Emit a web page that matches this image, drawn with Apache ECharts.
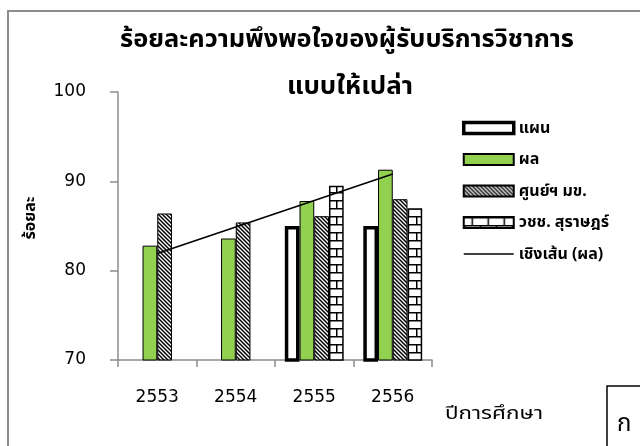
<!DOCTYPE html>
<html>
<head>
<meta charset="utf-8">
<script src="https://cdn.jsdelivr.net/npm/echarts@6/dist/echarts.min.js"></script>
<style>
  html, body { margin: 0; padding: 0; background: #fff; }
  #chart { width: 640px; height: 446px; }
</style>
</head>
<body>
<div id="chart"></div>
<script>
// Academic years and satisfaction percentages
const years = ['2553', '2554', '2555', '2556'];
const planValues = [null, null, 85, 85];
const resultValues = [82.8, 83.6, 87.8, 91.3];
const centerValues = [86.4, 85.4, 86.1, 88.0];
const collegeValues = [null, null, 89.5, 87.0];
const yTicks = [70, 80, 90, 100];

const seriesNames = ['แผน', 'ผล', 'ศูนย์ฯ มข.', 'วชช. สุราษฎร์', 'เชิงเส้น (ผล)'];
const titleLines = ['ร้อยละความพึงพอใจของผู้รับบริการวิชาการ', 'แบบให้เปล่า'];
const yName = 'ร้อยละ';
const xName = 'ปีการศึกษา';

const THAI = '"Noto Sans", "Noto Sans Thai", Tahoma, sans-serif';
const NUM = '"DejaVu Sans", sans-serif';

// Linear least-squares trend over the result series (x = 1..n)
function linearTrend(values) {
  const pts = values.map((v, i) => [i + 1, v]).filter(p => p[1] != null);
  const n = pts.length;
  const mx = pts.reduce((s, p) => s + p[0], 0) / n;
  const my = pts.reduce((s, p) => s + p[1], 0) / n;
  let sxy = 0, sxx = 0;
  pts.forEach(p => { sxy += (p[0] - mx) * (p[1] - my); sxx += (p[0] - mx) ** 2; });
  const slope = sxy / sxx;
  const icpt = my - slope * mx;
  return values.map((_, i) => +(icpt + slope * (i + 1)).toFixed(3));
}
const trendValues = linearTrend(resultValues);

// Horizontal scale that makes a text run span a given width
const measureCtx = document.createElement('canvas').getContext('2d');
function widthScale(text, font, target) {
  measureCtx.font = font;
  return target / measureCtx.measureText(text).width;
}

// Diagonal hatch fill
function hatchPattern() {
  const c = document.createElement('canvas');
  c.width = 8; c.height = 8;
  const g = c.getContext('2d');
  g.fillStyle = '#fff'; g.fillRect(0, 0, 8, 8);
  g.strokeStyle = '#000'; g.lineWidth = 1.5;
  for (let k = -3; k <= 3; k++) {
    g.beginPath();
    g.moveTo(k * 4 - 2, -2);
    g.lineTo(k * 4 + 10, 10);
    g.stroke();
  }
  return c;
}

// Brick fill
function brickPattern() {
  const c = document.createElement('canvas');
  c.width = 16; c.height = 16;
  const g = c.getContext('2d');
  g.fillStyle = '#fff'; g.fillRect(0, 0, 16, 16);
  g.strokeStyle = '#000'; g.lineWidth = 1.5;
  g.beginPath();
  g.moveTo(0, 0.75); g.lineTo(16, 0.75);
  g.moveTo(0, 8.75); g.lineTo(16, 8.75);
  g.moveTo(8.5, 0); g.lineTo(8.5, 8);
  g.moveTo(0.75, 8); g.lineTo(0.75, 16);
  g.stroke();
  return c;
}

const titleFont = 'bold 24px ' + THAI;
const xNameFont = '18px ' + THAI;

function centeredText(text, font, cx, cy, width) {
  return {
    type: 'text', silent: true, x: cx, y: cy,
    scaleX: widthScale(text, font, width),
    style: { text: text, font: font, fill: '#000', align: 'center', verticalAlign: 'middle' }
  };
}

const chart = echarts.init(document.getElementById('chart'), null, { renderer: 'canvas' });

const option = {
  backgroundColor: '#fff',
  animation: false,
  textStyle: { fontFamily: THAI, color: '#000' },
  graphic: [
    { type: 'rect', silent: true, z: -10,
      shape: { x: 8, y: 11, width: 700, height: 500 },
      style: { fill: 'none', stroke: '#8c8c8c', lineWidth: 2 } },
    centeredText(titleLines[0], titleFont, 347, 40, 454),
    centeredText(titleLines[1], titleFont, 350, 87, 126),
    centeredText(xName, xNameFont, 494, 414, 98),
    { type: 'text', silent: true, x: 30, y: 218, rotation: Math.PI / 2,
      style: { text: yName, font: 'bold 16px ' + THAI, fill: '#000', align: 'center', verticalAlign: 'middle' } },
    { type: 'rect', silent: true,
      shape: { x: 607, y: 386, width: 100, height: 100 },
      style: { fill: '#fff', stroke: '#000', lineWidth: 1.5 } },
    { type: 'text', silent: true, x: 617, y: 412,
      style: { text: 'ก', font: '24px ' + THAI, fill: '#000' } }
  ],
  legend: {
    orient: 'vertical',
    left: 462,
    top: 120,
    padding: 0,
    itemWidth: 50,
    itemHeight: 11,
    itemGap: 15.5,
    data: [
      { name: seriesNames[0], icon: 'rect', itemStyle: { borderWidth: 3.5, borderColor: '#000' } },
      { name: seriesNames[1], icon: 'rect' },
      { name: seriesNames[2], icon: 'rect' },
      { name: seriesNames[3], icon: 'rect' },
      { name: seriesNames[4], icon: 'path://M0,0M0,4.7H50V6.3H0ZM0,11' }
    ],
    textStyle: { fontFamily: THAI, fontSize: 16, fontWeight: 'bold', color: '#000' }
  },
  grid: { left: 118, right: 208, top: 92, bottom: 86 },
  xAxis: {
    type: 'category',
    data: years,
    boundaryGap: true,
    axisLine: { lineStyle: { color: '#8c8c8c', width: 1.5 } },
    axisTick: { show: true, length: 7, interval: 0, lineStyle: { color: '#8c8c8c', width: 1.5 } },
    axisLabel: { fontSize: 17, color: '#000', margin: 29, fontFamily: NUM }
  },
  yAxis: {
    type: 'value',
    min: yTicks[0],
    max: yTicks[yTicks.length - 1],
    interval: 10,
    axisLine: { show: true, lineStyle: { color: '#8c8c8c', width: 1.5 } },
    axisTick: { show: true, length: 8, lineStyle: { color: '#8c8c8c', width: 1.5 } },
    splitLine: { show: false },
    axisLabel: { fontSize: 17, color: '#000', margin: 32, fontFamily: NUM }
  },
  series: [
    { name: seriesNames[0], type: 'bar', data: planValues, barGap: '0%', barCategoryGap: '25%',
      itemStyle: { color: '#fff', borderColor: '#000', borderWidth: 3.5 } },
    { name: seriesNames[1], type: 'bar', data: resultValues, barGap: '0%', barCategoryGap: '25%',
      itemStyle: { color: '#92D050', borderColor: '#000', borderWidth: 1 } },
    { name: seriesNames[2], type: 'bar', data: centerValues, barGap: '0%', barCategoryGap: '25%',
      itemStyle: { color: { image: hatchPattern(), repeat: 'repeat' }, borderColor: '#000', borderWidth: 1 } },
    { name: seriesNames[3], type: 'bar', data: collegeValues, barGap: '0%', barCategoryGap: '25%',
      itemStyle: { color: { image: brickPattern(), repeat: 'repeat' }, borderColor: '#000', borderWidth: 1.5 } },
    { name: seriesNames[4], type: 'line', data: trendValues, symbol: 'none', z: 5,
      lineStyle: { color: '#000', width: 1.5 }, itemStyle: { color: '#000' } }
  ]
};

chart.setOption(option);
</script>
</body>
</html>
